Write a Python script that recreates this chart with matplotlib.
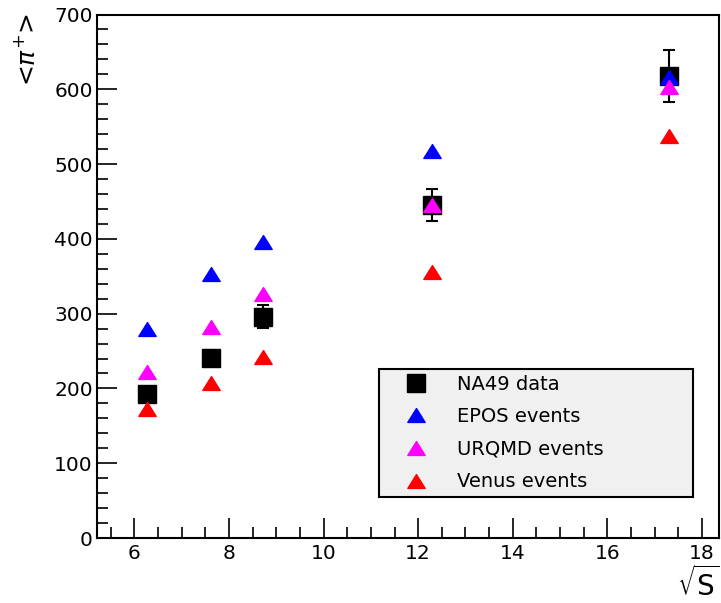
import matplotlib.pyplot as plt
from matplotlib.path import Path
from matplotlib.ticker import MultipleLocator

# sqrt(s) energies and mean pi+ multiplicities
sqrt_s = [6.27, 7.62, 8.73, 12.3, 17.3]
na49 = [193, 241, 296, 445, 618]
na49_err = [8, 10, 15, 21, 35]
epos = [280, 353, 396, 517, 616]
urqmd = [222, 282, 326, 445, 603]
venus = [173, 207, 242, 356, 538]

# ROOT style flat triangle
tri = Path([(-1, -0.8), (1, -0.8), (0, 0.8), (-1, -0.8)],
           [Path.MOVETO, Path.LINETO, Path.LINETO, Path.CLOSEPOLY])


def main():
    plt.rcParams['font.family'] = ['DejaVu Sans']
    fig = plt.figure(figsize=(7.21, 6.03), dpi=100)
    ax = fig.add_axes([97 / 721, 1 - 538 / 603, 622 / 721, 523.5 / 603])

    eb = ax.errorbar(sqrt_s, na49, yerr=na49_err, fmt='s', color='black', ms=13,
                     capsize=4, elinewidth=1.5, capthick=1.5, zorder=3)
    h1, = ax.plot(sqrt_s, epos, ls='none', marker=tri, ms=12.5, color='#0000ff', zorder=4)
    h2, = ax.plot(sqrt_s, urqmd, ls='none', marker=tri, ms=12.5, color='#ff00ff', zorder=5)
    h3, = ax.plot(sqrt_s, venus, ls='none', marker=tri, ms=12.5, color='#ff0000', zorder=5)

    ax.set_xlim(5.21, 18.36)
    ax.set_ylim(0, 700)
    ax.xaxis.set_major_locator(MultipleLocator(2))
    ax.xaxis.set_minor_locator(MultipleLocator(0.5))
    ax.yaxis.set_major_locator(MultipleLocator(100))
    ax.yaxis.set_minor_locator(MultipleLocator(20))
    ax.tick_params(which='both', direction='in', width=1.2, labelsize=14.5)
    ax.tick_params(which='major', length=14.5)
    ax.tick_params(which='minor', length=8)
    ax.tick_params(axis='x', pad=4.5)
    ax.tick_params(axis='y', pad=3)
    for s in ax.spines.values():
        s.set_linewidth(1.5)

    fig.text(28 / 721, 1 - 13 / 603, '<$\\pi^{+}$>', rotation=90, fontsize=18,
             ha='center', va='top')
    fig.text(720 / 721, 1 - 584 / 603, r'$\sqrt{\mathsf{S}}$', fontsize=20,
             ha='right', va='center')

    leg = ax.legend([eb[0], h1, h2, h3],
                    ['NA49 data', 'EPOS events', 'URQMD events', 'Venus events'],
                    loc='lower left', bbox_to_anchor=(0.453, 0.078, 0.505, 0.245),
                    mode='expand', borderaxespad=0, fontsize=14, frameon=True,
                    fancybox=False, facecolor='#f0f0f0', edgecolor='black',
                    framealpha=1, borderpad=0.3, handlelength=3.2,
                    handletextpad=0.52, labelspacing=0.7)
    leg.get_frame().set_linewidth(1.5)

    plt.savefig('out.png', dpi=100)


if __name__ == "__main__":
    main()
